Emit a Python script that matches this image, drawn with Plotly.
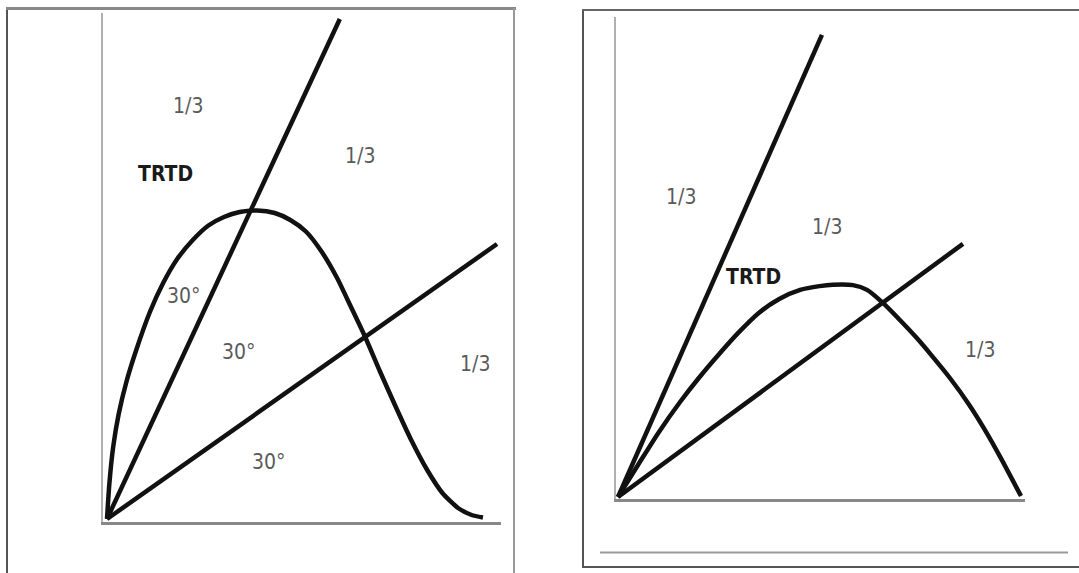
import plotly.graph_objects as go

W, H = 1079, 573

# ---------------- data (normalized axis units: 0..1 along each axis) ----------------
# Left panel
left_curve_x = [0.0, 0.006, 0.016, 0.030, 0.050, 0.075, 0.110, 0.144, 0.180, 0.220, 0.260,
                0.300, 0.340, 0.385, 0.430, 0.470, 0.510, 0.550, 0.590, 0.625, 0.662, 0.700,
                0.740, 0.780, 0.821, 0.860, 0.900, 0.935, 0.964]
left_curve_y = [0.0, 0.070, 0.145, 0.210, 0.275, 0.338, 0.414, 0.472, 0.520, 0.558, 0.587,
                0.604, 0.614, 0.617, 0.612, 0.598, 0.575, 0.535, 0.482, 0.425, 0.364, 0.295,
                0.225, 0.158, 0.098, 0.052, 0.022, 0.008, 0.003]
left_steep_x = [0.0, 0.597]
left_steep_y = [0.0, 1.0]
left_shallow_x = [0.0, 1.0]
left_shallow_y = [0.0, 0.55]
left_labels = ["1/3", "TRTD", "1/3", "30°", "30°", "1/3", "30°"]
left_label_x = [0.208, 0.151, 0.649, 0.195, 0.336, 0.944, 0.415]
left_label_y = [0.826, 0.690, 0.726, 0.446, 0.334, 0.310, 0.114]

# Right panel
right_curve_x = [0.0, 0.050, 0.100, 0.154, 0.200, 0.250, 0.300, 0.350, 0.400, 0.452, 0.500,
                 0.533, 0.583, 0.618, 0.658, 0.700, 0.742, 0.780, 0.824, 0.870, 0.910, 0.950, 1.0]
right_curve_y = [0.0, 0.068, 0.135, 0.200, 0.250, 0.300, 0.347, 0.388, 0.417, 0.436, 0.444,
                 0.447, 0.446, 0.436, 0.408, 0.372, 0.334, 0.296, 0.250, 0.196, 0.142, 0.082, 0.002]
right_steep_x = [0.0, 0.506]
right_steep_y = [0.0, 0.973]
right_shallow_x = [0.0, 0.856]
right_shallow_y = [0.0, 0.533]
right_labels = ["1/3", "1/3", "TRTD", "1/3"]
right_label_x = [0.156, 0.519, 0.335, 0.898]
right_label_y = [0.632, 0.568, 0.463, 0.309]

# ---------------- layout helpers ----------------
def x_domain(origin_px, px_per_unit, rng):
    return [(origin_px + rng[0] * px_per_unit) / W, (origin_px + rng[1] * px_per_unit) / W]

def y_domain(origin_py, px_per_unit, rng):
    return [1 - (origin_py - rng[0] * px_per_unit) / H, 1 - (origin_py - rng[1] * px_per_unit) / H]

L_xr, L_yr = [-0.01, 1.01], [-0.005, 1.012]
R_xr, R_yr = [-0.006, 1.01], [-0.004, 1.01]

fig = go.Figure()
LINE = dict(color="#111111", width=4.5)

for xs, ys in [(left_curve_x, left_curve_y), (left_steep_x, left_steep_y), (left_shallow_x, left_shallow_y)]:
    fig.add_trace(go.Scatter(x=xs, y=ys, mode="lines", line=dict(LINE, shape="spline", smoothing=0.6),
                             xaxis="x", yaxis="y", hoverinfo="skip", showlegend=False))
for xs, ys in [(right_curve_x, right_curve_y), (right_steep_x, right_steep_y), (right_shallow_x, right_shallow_y)]:
    fig.add_trace(go.Scatter(x=xs, y=ys, mode="lines", line=dict(LINE, shape="spline", smoothing=0.6),
                             xaxis="x2", yaxis="y2", hoverinfo="skip", showlegend=False))

FONT = "Liberation Sans Narrow, DejaVu Sans Condensed, Arial Narrow, Liberation Sans, Arial, sans-serif"
annotations = []
for t, x, y in zip(left_labels, left_label_x, left_label_y):
    bold = t == "TRTD"
    annotations.append(dict(x=x, y=y, xref="x", yref="y", text=f"<b>{t}</b>" if bold else t,
                            showarrow=False, font=dict(family=FONT, size=21,
                                                       color="#1a1a1a" if bold else "#5a5a5a")))
for t, x, y in zip(right_labels, right_label_x, right_label_y):
    bold = t == "TRTD"
    annotations.append(dict(x=x, y=y, xref="x2", yref="y2", text=f"<b>{t}</b>" if bold else t,
                            showarrow=False, font=dict(family=FONT, size=21,
                                                       color="#1a1a1a" if bold else "#5a5a5a")))

def px(x):
    return x / W

def py(y):
    return 1 - y / H

shapes = [
    # left frame
    dict(type="line", xref="paper", yref="paper", x0=px(7), x1=px(7), y0=py(8), y1=py(575),
         line=dict(color="#555555", width=2)),
    dict(type="line", xref="paper", yref="paper", x0=px(6), x1=px(516), y0=py(8.5), y1=py(8.5),
         line=dict(color="#888888", width=3)),
    dict(type="line", xref="paper", yref="paper", x0=px(514), x1=px(514), y0=py(8), y1=py(575),
         line=dict(color="#999999", width=2)),
    # right frame
    dict(type="line", xref="paper", yref="paper", x0=px(583), x1=px(583), y0=py(10), y1=py(568),
         line=dict(color="#555555", width=2)),
    dict(type="line", xref="paper", yref="paper", x0=px(582), x1=px(1080), y0=py(10), y1=py(10),
         line=dict(color="#666666", width=2)),
    dict(type="line", xref="paper", yref="paper", x0=px(582), x1=px(1080), y0=py(567), y1=py(567),
         line=dict(color="#555555", width=2)),
    dict(type="line", xref="paper", yref="paper", x0=px(600), x1=px(1068), y0=py(552.5), y1=py(552.5),
         line=dict(color="#999999", width=2)),
]

ax_common = dict(showgrid=False, zeroline=False, showticklabels=False, ticks="", fixedrange=True)

fig.update_layout(
    width=W, height=H, margin=dict(l=0, r=0, t=0, b=0),
    paper_bgcolor="white", plot_bgcolor="rgba(0,0,0,0)",
    showlegend=False,
    xaxis=dict(ax_common, domain=x_domain(107, 390, L_xr), range=L_xr, anchor="y",
               showline=True, linecolor="#888888", linewidth=3),
    yaxis=dict(ax_common, domain=y_domain(519, 500, L_yr), range=L_yr, anchor="x",
               showline=True, linecolor="#b0b0b0", linewidth=2),
    xaxis2=dict(ax_common, domain=x_domain(618, 403, R_xr), range=R_xr, anchor="y2",
                showline=True, linecolor="#888888", linewidth=3),
    yaxis2=dict(ax_common, domain=y_domain(497, 475, R_yr), range=R_yr, anchor="x2",
                showline=True, linecolor="#b0b0b0", linewidth=2),
    annotations=annotations,
    shapes=shapes,
)

fig.write_html(
    "out.html",
    config={"displayModeBar": False},
    post_script="document.body.style.margin='0';document.body.style.padding='0';document.body.style.overflow='hidden';",
)
